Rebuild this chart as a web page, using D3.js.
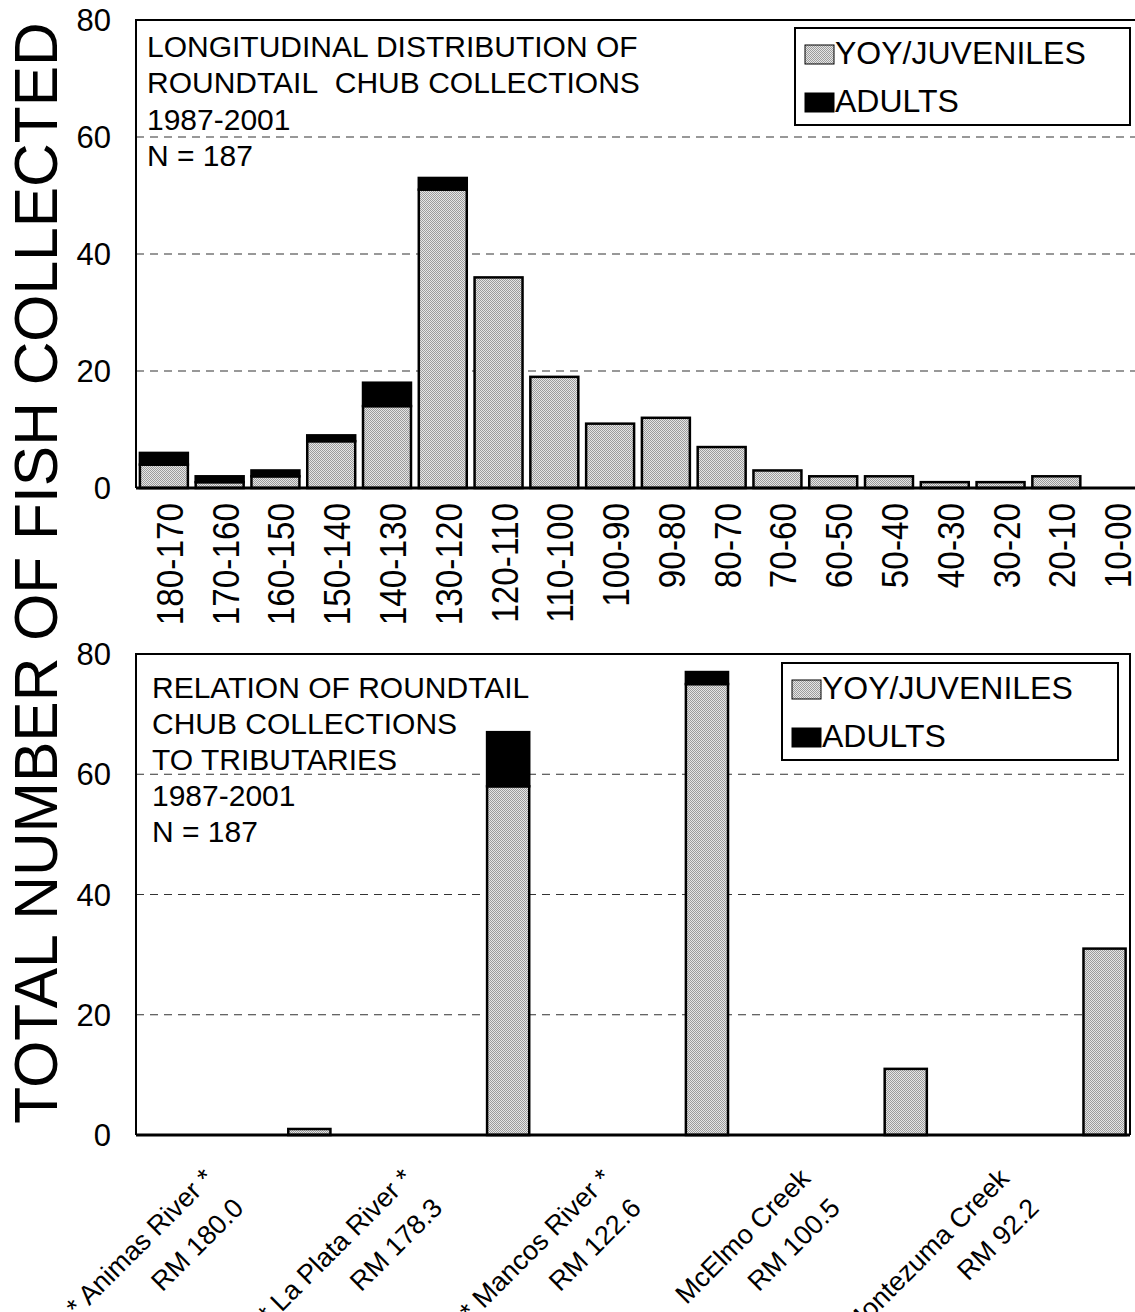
<!DOCTYPE html>
<html>
<head>
<meta charset="utf-8">
<script src="https://cdn.jsdelivr.net/npm/d3@7.9.0/dist/d3.min.js"></script>
<style>
  body { margin: 0; background: #fff; }
  svg { display: block; font-family: "Liberation Sans", Arial, sans-serif; }
</style>
</head>
<body>
<svg id="chart" width="1135" height="1312"></svg>
<script>
// river mile reaches (top panel)
const reachLabels = ["180-170", "170-160", "160-150", "150-140", "140-130", "130-120",
  "120-110", "110-100", "100-90", "90-80", "80-70", "70-60", "60-50", "50-40",
  "40-30", "30-20", "20-10", "10-00"];
const reachJuveniles = [4, 1, 2, 8, 14, 51, 36, 19, 11, 12, 7, 3, 2, 2, 1, 1, 2, 0];
const reachAdults    = [2, 1, 1, 1, 4, 2, 0, 0, 0, 0, 0, 0, 0, 0, 0, 0, 0, 0];

// tributaries (bottom panel)
const tribNames = ["* Animas River *", "* La Plata River *", "* Mancos River *", "McElmo Creek", "Montezuma Creek"];
const tribRM    = ["RM 180.0", "RM 178.3", "RM 122.6", "RM 100.5", "RM 92.2"];
const tribJuveniles = [1, 58, 75, 11, 31];
const tribAdults    = [0, 9, 2, 0, 0];

const yTicks = [0, 20, 40, 60, 80];
const seriesNames = ["YOY/JUVENILES", "ADULTS"];
const topNotes = ["LONGITUDINAL DISTRIBUTION OF", "ROUNDTAIL\u00a0 CHUB COLLECTIONS", "1987-2001", "N = 187"];
const bottomNotes = ["RELATION OF ROUNDTAIL", "CHUB COLLECTIONS", "TO TRIBUTARIES", "1987-2001", "N = 187"];
const yTitle = "TOTAL NUMBER OF FISH COLLECTED";

const svg = d3.select("#chart");

// stippled gray fill
const defs = svg.append("defs");
const pat = defs.append("pattern")
  .attr("id", "stipple")
  .attr("width", 2).attr("height", 2)
  .attr("patternUnits", "userSpaceOnUse");
pat.append("rect").attr("width", 2).attr("height", 2).attr("fill", "#e6e6e6");
pat.append("rect").attr("width", 1).attr("height", 1).attr("fill", "#9c9c9c");
pat.append("rect").attr("x", 1).attr("y", 1).attr("width", 1).attr("height", 1).attr("fill", "#9c9c9c");

const juvFill = "url(#stipple)";

function drawPanel(opt) {
  const g = svg.append("g");
  const y = d3.scaleLinear().domain([0, 80]).range([opt.bottom, opt.top]);

  // gridlines
  g.selectAll(".grid")
    .data(yTicks.filter(d => d > 0 && d < 80))
    .enter().append("line")
    .attr("x1", opt.left).attr("x2", opt.right)
    .attr("y1", d => y(d)).attr("y2", d => y(d))
    .attr("stroke", "#333").attr("stroke-width", 1.2)
    .attr("stroke-dasharray", "8,6");

  // y tick labels
  g.selectAll(".ytick")
    .data(yTicks)
    .enter().append("text")
    .attr("x", 111).attr("y", d => y(d))
    .attr("dy", "0.36em")
    .attr("text-anchor", "end")
    .style("font-size", "31px")
    .text(d => d);

  // notes
  g.selectAll(".note")
    .data(opt.notes)
    .enter().append("text")
    .attr("x", opt.noteX)
    .attr("y", (d, i) => opt.noteY + i * opt.noteStep)
    .style("font-size", "30px")
    .text(d => d);

  // legend
  const lg = g.append("g");
  lg.append("rect")
    .attr("x", opt.legend.x).attr("y", opt.legend.y)
    .attr("width", opt.legend.w).attr("height", opt.legend.h)
    .attr("fill", "#fff").attr("stroke", "#000").attr("stroke-width", 2);
  seriesNames.forEach((s, i) => {
    const by = opt.legend.y + 36 + i * 48;
    lg.append("rect")
      .attr("x", opt.legend.x + 10).attr("y", by - 19)
      .attr("width", 29).attr("height", 19)
      .attr("fill", i === 0 ? juvFill : "#000")
      .attr("stroke", "#000").attr("stroke-width", 1);
    lg.append("text")
      .attr("x", opt.legend.x + 40).attr("y", by)
      .style("font-size", "32px")
      .text(s);
  });

  return { g, y };
}

function drawBars(g, y, xs, w, juv, adu) {
  const data = juv.map((j, i) => ({ x: xs[i], j, a: adu[i] }));
  // juveniles
  g.selectAll(".juv")
    .data(data.filter(d => d.j > 0))
    .enter().append("rect")
    .attr("x", d => d.x).attr("width", w)
    .attr("y", d => y(d.j)).attr("height", d => y(0) - y(d.j))
    .attr("fill", juvFill).attr("stroke", "#000").attr("stroke-width", 2.5);
  // adults stacked on top
  g.selectAll(".adu")
    .data(data.filter(d => d.a > 0))
    .enter().append("rect")
    .attr("x", d => d.x).attr("width", w)
    .attr("y", d => y(d.j + d.a)).attr("height", d => y(d.j) - y(d.j + d.a))
    .attr("fill", "#000").attr("stroke", "#000").attr("stroke-width", 2.5);
}

function drawFrame(g, y, left, right, top, bottom, rightBorder) {
  const path = rightBorder
    ? `M${left},${bottom}V${top}H${right}V${bottom}`
    : `M${left},${bottom}V${top}H${right}`;
  g.append("path").attr("d", path).attr("fill", "none")
    .attr("stroke", "#000").attr("stroke-width", 2);
  g.append("line")
    .attr("x1", left).attr("x2", right)
    .attr("y1", y(0)).attr("y2", y(0))
    .attr("stroke", "#000").attr("stroke-width", 3);
}

// ---------- top panel ----------
const topPanel = drawPanel({
  left: 136, right: 1140, top: 20, bottom: 488,
  notes: topNotes, noteX: 147, noteY: 57, noteStep: 36.3,
  legend: { x: 795, y: 28, w: 335, h: 97 }
});
const xTop = d3.scaleBand()
  .domain(reachLabels)
  .range([136, 1140])
  .paddingInner(0.14)
  .paddingOuter(0.07);

drawBars(topPanel.g, topPanel.y, reachLabels.map(d => xTop(d)), xTop.bandwidth(), reachJuveniles, reachAdults);
drawFrame(topPanel.g, topPanel.y, 136, 1140, 20, 488, false);

topPanel.g.selectAll(".xlab")
  .data(reachLabels)
  .enter().append("text")
  .attr("transform", d => `translate(${xTop(d) + xTop.bandwidth() / 2},503) rotate(-90) scale(0.9,1)`)
  .attr("y", 19)
  .attr("text-anchor", "end")
  .style("font-size", "37px")
  .text(d => d);

// ---------- bottom panel ----------
const botPanel = drawPanel({
  left: 136, right: 1130, top: 654, bottom: 1135,
  notes: bottomNotes, noteX: 152, noteY: 698, noteStep: 36,
  legend: { x: 782, y: 663, w: 336, h: 97 }
});
const xBot = d3.scaleBand()
  .domain(tribNames)
  .range([136, 1130]);
const bw = xBot.bandwidth();

// collections sit in the reach just downstream of each tributary
drawBars(botPanel.g, botPanel.y, tribNames.map(d => xBot(d) + bw * 0.766), bw * 0.212, tribJuveniles, tribAdults);
drawFrame(botPanel.g, botPanel.y, 136, 1130, 654, 1135, true);

const lab = botPanel.g.selectAll(".tlab")
  .data(tribNames)
  .enter().append("g")
  .attr("transform", d => `translate(${xBot(d) + bw / 2 - 20},1180) rotate(-45)`);
lab.append("text")
  .attr("text-anchor", "end")
  .style("font-size", "27px")
  .text(d => d);
lab.append("text")
  .attr("text-anchor", "end")
  .attr("y", 42)
  .style("font-size", "27px")
  .text((d, i) => tribRM[i]);

// ---------- shared y title ----------
svg.append("text")
  .attr("transform", "translate(57,573) rotate(-90)")
  .attr("text-anchor", "middle")
  .style("font-size", "60.5px")
  .text(yTitle);
</script>
</body>
</html>
